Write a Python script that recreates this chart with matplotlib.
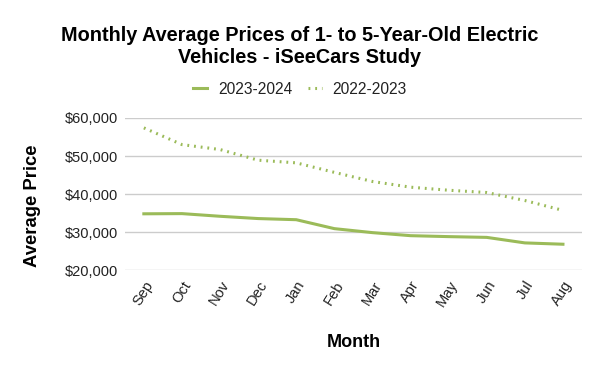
import matplotlib.pyplot as plt
from matplotlib.ticker import FuncFormatter

months = ['Sep', 'Oct', 'Nov', 'Dec', 'Jan', 'Feb', 'Mar', 'Apr', 'May', 'Jun', 'Jul', 'Aug']
price_2023_2024 = [34800, 34850, 34150, 33550, 33250, 30900, 29850, 29050, 28800, 28600, 27150, 26800]
price_2022_2023 = [57400, 53000, 51700, 48900, 48200, 45700, 43300, 41800, 41000, 40400, 38300, 35700]

green = '#9bbb59'
plt.rcParams['font.family'] = ['Liberation Sans', 'DejaVu Sans']

fig = plt.figure(figsize=(6, 3.71), dpi=100)
ax = fig.add_axes([0.208, 0.272, 0.762, 0.41])

x = list(range(len(months)))
ax.plot(x, price_2023_2024, color=green, lw=2.2, label='2023-2024')
ax.plot(x, price_2022_2023, color=green, lw=2.2, ls=(0, (0.6, 1.6)), label='2022-2023')

ax.set_xlim(-0.5, len(months) - 0.5)
ax.set_ylim(20000, 60000)
ax.set_yticks([20000, 30000, 40000, 50000, 60000])
ax.yaxis.set_major_formatter(FuncFormatter(lambda v, p: '${:,.0f}'.format(v)))
ax.set_xticks(x)
ax.set_xticklabels(months, rotation=58, ha='right', rotation_mode='anchor')
ax.grid(axis='y', color='#cccccc', lw=1)
ax.set_axisbelow(True)
for s in ax.spines.values():
    s.set_visible(False)
ax.tick_params(length=0, labelsize=10.5, labelcolor='#222222')
ax.tick_params(axis='y', pad=5)
ax.tick_params(axis='x', pad=6)

ax.set_xlabel('Month', fontsize=13, fontweight='bold', labelpad=18)
ax.set_ylabel('Average Price', fontsize=13.3, fontweight='bold')
ax.yaxis.set_label_coords(-0.183, 0.42)

fig.suptitle('Monthly Average Prices of 1- to 5-Year-Old Electric\nVehicles - iSeeCars Study',
             x=0.5, y=0.93, fontsize=14.3, fontweight='bold', linespacing=1.2)
fig.legend(loc='center', bbox_to_anchor=(0.5, 0.76), ncol=2, frameon=False,
           fontsize=11.2, handlelength=0.9, columnspacing=1.0, handletextpad=0.7,
           labelcolor='#222222')

fig.savefig('out.png', dpi=100)
